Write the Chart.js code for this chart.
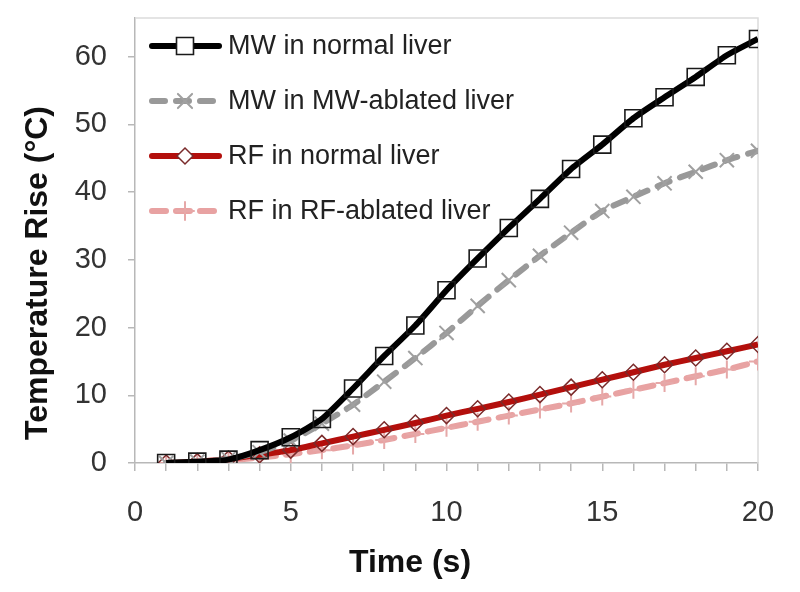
<!DOCTYPE html>
<html>
<head>
<meta charset="utf-8">
<script src="https://cdn.jsdelivr.net/npm/chart.js@4/dist/chart.umd.min.js"></script>
<style>
  body { margin: 0; background: #fff; }
  #chart { display: block; }
</style>
</head>
<body>
<canvas id="chart" width="800" height="592"></canvas>
<script>
// time points (s)
var times = [1, 2, 3, 4, 5, 6, 7, 8, 9, 10, 11, 12, 13, 14, 15, 16, 17, 18, 19, 20];

// temperature rise (°C)
var mwNormal = [0, 0.2, 0.5, 1.9, 3.8, 6.5, 11.0, 15.8, 20.3, 25.5, 30.2, 34.7, 39.0, 43.4, 47.0, 50.9, 54.0, 57.0, 60.2, 62.6];
var mwAblated = [0, 0.2, 0.6, 1.6, 3.3, 5.8, 8.6, 12.0, 15.5, 19.2, 23.2, 27.0, 30.6, 34.0, 37.2, 39.3, 41.3, 43.0, 44.7, 46.1];
var rfNormal = [0, 0.2, 0.6, 1.2, 1.9, 2.9, 3.9, 4.9, 5.9, 7.0, 8.0, 9.0, 10.1, 11.2, 12.3, 13.4, 14.5, 15.5, 16.5, 17.5];
var rfAblated = [0, 0.1, 0.4, 0.8, 1.3, 1.9, 2.6, 3.4, 4.3, 5.2, 6.1, 7.0, 7.9, 8.8, 9.8, 10.8, 11.8, 12.8, 13.8, 15.0];

var seriesNames = ["MW in normal liver", "MW in MW-ablated liver", "RF in normal liver", "RF in RF-ablated liver"];
var yTicks = [0, 10, 20, 30, 40, 50, 60];
var xLabels = [0, 5, 10, 15, 20];
var xTitle = "Time (s)";
var yTitle = "Temperature Rise (°C)";

var fontFamily = "'Liberation Sans', Arial, sans-serif";

function toPoints(values) {
  return values.map(function (v, i) {
    return { x: times[i], y: v };
  });
}

Chart.defaults.font.family = fontFamily;

// frame on top and right of the plot area
var frame = {
  id: "frame",
  beforeDatasetsDraw: function (chart) {
    var a = chart.chartArea;
    var ctx = chart.ctx;
    ctx.save();
    ctx.strokeStyle = "#dcdcdc";
    ctx.lineWidth = 1.5;
    ctx.beginPath();
    ctx.moveTo(a.left, a.top);
    ctx.lineTo(a.right, a.top);
    ctx.lineTo(a.right, a.bottom);
    ctx.stroke();
    ctx.restore();
  }
};

// axis titles, placed where the original has them (a bit off-centre)
var axisTitles = {
  id: "axisTitles",
  afterDraw: function (chart) {
    var ctx = chart.ctx;
    ctx.save();
    ctx.fillStyle = "#111";
    ctx.font = "bold 32px " + fontFamily;
    ctx.textAlign = "center";
    ctx.textBaseline = "middle";
    ctx.fillText(xTitle, 410, 563);
    ctx.translate(38, 273);
    ctx.rotate(-Math.PI / 2);
    ctx.fillText(yTitle, 0, 0);
    ctx.restore();
  }
};

// legend inside the plot, top-left
var innerLegend = {
  id: "innerLegend",
  afterDraw: function (chart) {
    var ctx = chart.ctx;
    ctx.save();
    chart.data.datasets.forEach(function (ds, i) {
      var y = 46 + i * 55;
      ctx.strokeStyle = ds.borderColor;
      ctx.lineWidth = ds.borderWidth;
      ctx.lineCap = "round";
      ctx.setLineDash(ds.borderDash || []);
      ctx.beginPath();
      ctx.moveTo(152, y);
      ctx.lineTo(219, y);
      ctx.stroke();
      ctx.setLineDash([]);
      ctx.strokeStyle = ds.pointBorderColor;
      ctx.fillStyle = "#fff";
      ctx.lineWidth = ds.pointBorderWidth;
      Chart.helpers.drawPoint(ctx, { pointStyle: ds.pointStyle, radius: ds.pointRadius, borderWidth: ds.pointBorderWidth }, 185, y);
      ctx.fillStyle = "#222";
      ctx.font = "27px " + fontFamily;
      ctx.textBaseline = "middle";
      ctx.fillText(ds.label, 228, y + 1);
    });
    ctx.restore();
  }
};

new Chart(document.getElementById("chart"), {
  type: "line",
  data: {
    datasets: [
      {
        label: seriesNames[0],
        data: toPoints(mwNormal),
        borderColor: "#000000",
        borderWidth: 6,
        pointStyle: "rect",
        pointRadius: 12,
        pointBorderColor: "#1a1a1a",
        pointBorderWidth: 1.6,
        pointBackgroundColor: "rgba(255,255,255,0)",
        tension: 0.2
      },
      {
        label: seriesNames[1],
        data: toPoints(mwAblated),
        borderColor: "#999999",
        borderWidth: 6,
        borderDash: [13, 11],
        borderCapStyle: "round",
        pointStyle: "crossRot",
        pointRadius: 10,
        pointBorderColor: "#a0a0a0",
        pointBorderWidth: 2,
        tension: 0.2
      },
      {
        label: seriesNames[2],
        data: toPoints(rfNormal),
        borderColor: "#b30f0c",
        borderWidth: 6,
        pointStyle: "rectRot",
        pointRadius: 8,
        pointBorderColor: "#7a2a2a",
        pointBorderWidth: 1.5,
        pointBackgroundColor: "rgba(255,255,255,0)",
        tension: 0.2
      },
      {
        label: seriesNames[3],
        data: toPoints(rfAblated),
        borderColor: "#e8a2a2",
        borderWidth: 6,
        borderDash: [14, 10],
        borderCapStyle: "round",
        pointStyle: "cross",
        pointRadius: 9,
        pointBorderColor: "#e6a8a8",
        pointBorderWidth: 2,
        tension: 0.2
      }
    ]
  },
  options: {
    responsive: false,
    animation: false,
    layout: { padding: { top: 18, right: 42, bottom: 0, left: 0 } },
    plugins: {
      legend: { display: false },
      tooltip: { enabled: false }
    },
    scales: {
      x: {
        type: "linear",
        min: 0,
        max: 20,
        ticks: {
          stepSize: 1,
          autoSkip: false,
          maxRotation: 0,
          padding: 25,
          color: "#333",
          font: { size: 29 },
          callback: function (v) {
            return xLabels.indexOf(v) >= 0 ? String(v) : "";
          }
        },
        grid: { drawOnChartArea: false, tickLength: 8, color: "#b8b8b8", lineWidth: 1.5 },
        border: { color: "#b8b8b8", width: 1.5 },
        afterFit: function (s) {
          s.height = 129;
          s.paddingLeft = 0;
          s.paddingRight = 0;
        }
      },
      y: {
        min: 0,
        max: 65.7,
        afterBuildTicks: function (s) {
          s.ticks = yTicks.map(function (v) { return { value: v }; });
        },
        ticks: {
          padding: 21,
          color: "#333",
          font: { size: 29 }
        },
        grid: { drawOnChartArea: false, tickLength: 7, color: "#b8b8b8", lineWidth: 1.5 },
        border: { color: "#b8b8b8", width: 1.5 },
        afterFit: function (s) {
          s.width = 135;
          s.paddingTop = 0;
          s.paddingBottom = 0;
        }
      }
    }
  },
  plugins: [frame, axisTitles, innerLegend]
});
</script>
</body>
</html>
